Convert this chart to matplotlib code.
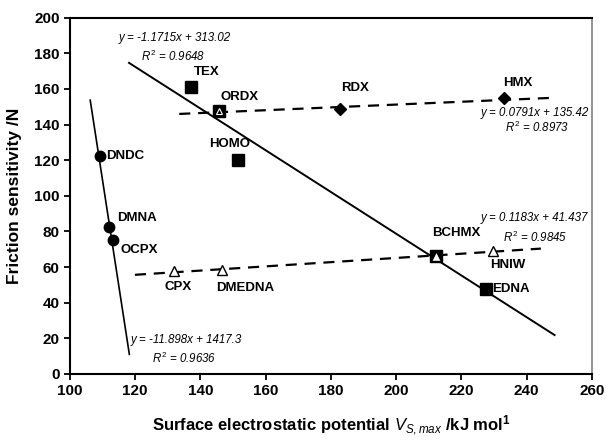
import numpy as np
import matplotlib
matplotlib.use('Agg')
import matplotlib.pyplot as plt

plt.rcParams['font.family'] = ['Liberation Sans', 'DejaVu Sans']
plt.rcParams['mathtext.fontset'] = 'custom'
plt.rcParams['mathtext.rm'] = 'Liberation Sans'
plt.rcParams['mathtext.it'] = 'Liberation Sans:italic'
plt.rcParams['mathtext.bf'] = 'Liberation Sans:bold'

# data
circle_names = ['DNDC', 'DMNA', 'OCPX']
circle_x = [109.1, 112.0, 113.3]
circle_y = [122.6, 82.3, 75.0]

square_names = ['TEX', 'ORDX', 'HOMO', 'BCHMX', 'EDNA']
square_x = [137.1, 145.7, 151.5, 212.2, 227.5]
square_y = [161.1, 147.8, 120.2, 66.2, 47.6]

diamond_names = ['ORDX', 'RDX', 'HMX']
diamond_x = [145.7, 182.8, 233.0]
diamond_y = [147.8, 148.7, 154.9]

triangle_names = ['CPX', 'DMEDNA', 'BCHMX', 'HNIW']
triangle_x = [132.0, 146.7, 212.2, 229.6]
triangle_y = [57.9, 58.1, 66.2, 69.2]

# trend lines: slope, intercept, x-range
fit_circle = (-11.898, 1417.3, 106.2, 118.2)
fit_square = (-1.1715, 313.02, 118.1, 248.6)
fit_diamond = (0.0791, 135.42, 133.5, 247.4)
fit_triangle = (0.1183, 41.437, 119.9, 244.4)

fig = plt.figure(figsize=(6.06, 4.44), dpi=100)
ax = fig.add_axes([0.1155, 0.158, 0.861, 0.802])


def trend(fit, ls, lw):
    m, b, x0, x1 = fit
    xs = np.array([x0, x1])
    ax.plot(xs, m * xs + b, color='black', linestyle=ls, linewidth=lw, zorder=2)


trend(fit_circle, '-', 1.2)
trend(fit_square, '-', 1.4)
trend(fit_diamond, (0, (5, 3.5)), 1.6)
trend(fit_triangle, (0, (5, 3.5)), 1.6)

ax.plot(circle_x, circle_y, 'o', color='black', markersize=7.5, zorder=3)
ax.plot(square_x, square_y, 's', color='black', markersize=8, zorder=3)
ax.plot(diamond_x, diamond_y, 'D', color='black', markersize=6,
        markeredgecolor='black', zorder=4)
ax.plot(diamond_x[:1], diamond_y[:1], '^', color='none', markersize=5,
        markeredgecolor='white', markeredgewidth=0.8, zorder=5)
ax.plot(triangle_x, triangle_y, '^', markerfacecolor='white',
        markeredgecolor='black', markersize=7, markeredgewidth=1.0, zorder=4)

lab = dict(fontsize=9.5, fontweight='bold', textcoords='offset pixels', va='center')
# label offsets in pixels from their marker
offsets = {
    'DNDC': (6, 0, 'left'), 'DMNA': (8, 9, 'left'), 'OCPX': (7, -10, 'left'),
    'TEX': (16, 15, 'center'), 'ORDX': (21, 14, 'center'), 'HOMO': (-8, 16, 'center'),
    'BCHMX': (20, 23, 'center'), 'EDNA': (6, 0, 'left'),
    'RDX': (15, 21, 'center'), 'HMX': (14, 15, 'center'),
    'CPX': (4, -16, 'center'), 'DMEDNA': (23, -18, 'center'), 'HNIW': (15, -14, 'center'),
}
done = set()
for names, xs, ys in [(circle_names, circle_x, circle_y), (square_names, square_x, square_y),
                      (diamond_names, diamond_x, diamond_y), (triangle_names, triangle_x, triangle_y)]:
    for n, x, y in zip(names, xs, ys):
        if n in done:
            continue
        done.add(n)
        dx, dy, ha = offsets[n]
        ax.annotate(n, (x, y), xytext=(dx, dy), ha=ha, **lab)

eq = dict(fontsize=8.3, fontstyle='italic', va='center')
ax.text(132.2, 188.8, 'y = -1.1715x + 313.02', ha='center', **eq)
ax.text(131.6, 178.1, '$R^2$ = 0.9648', ha='center', **eq)
ax.text(242.5, 146.6, 'y = 0.0791x + 135.42', ha='center', **eq)
ax.text(243.1, 138.7, '$R^2$ = 0.8973', ha='center', **eq)
ax.text(242.5, 87.6, 'y = 0.1183x + 41.437', ha='center', **eq)
ax.text(242.5, 76.9, '$R^2$ = 0.9845', ha='center', **eq)
ax.text(118.7, 19.0, 'y = -11.898x + 1417.3', ha='left', **eq)
ax.text(125.0, 8.9, '$R^2$ = 0.9636', ha='left', **eq)

ax.set_xlim(100, 260)
ax.set_ylim(0, 200)
ax.set_xticks(np.arange(100, 261, 20))
ax.set_yticks(np.arange(0, 201, 20))
ax.tick_params(direction='out', length=4, width=1.3, labelsize=11)
for t in ax.get_xticklabels() + ax.get_yticklabels():
    t.set_fontweight('bold')
for s in ['left', 'bottom', 'top']:
    ax.spines[s].set_linewidth(1.5)
ax.spines['right'].set_color('#808080')
ax.spines['right'].set_linewidth(1.2)

ax.set_xlabel('Surface electrostatic potential $\\mathit{V}_{\\mathit{S,max}}$ /kJ mol$^{\\mathbf{1}}$',
              fontsize=12, fontweight='bold', labelpad=11)
ax.set_ylabel('Friction sensitivity /N', fontsize=12.5, fontweight='bold', labelpad=9)

fig.savefig('out.png', dpi=100)
